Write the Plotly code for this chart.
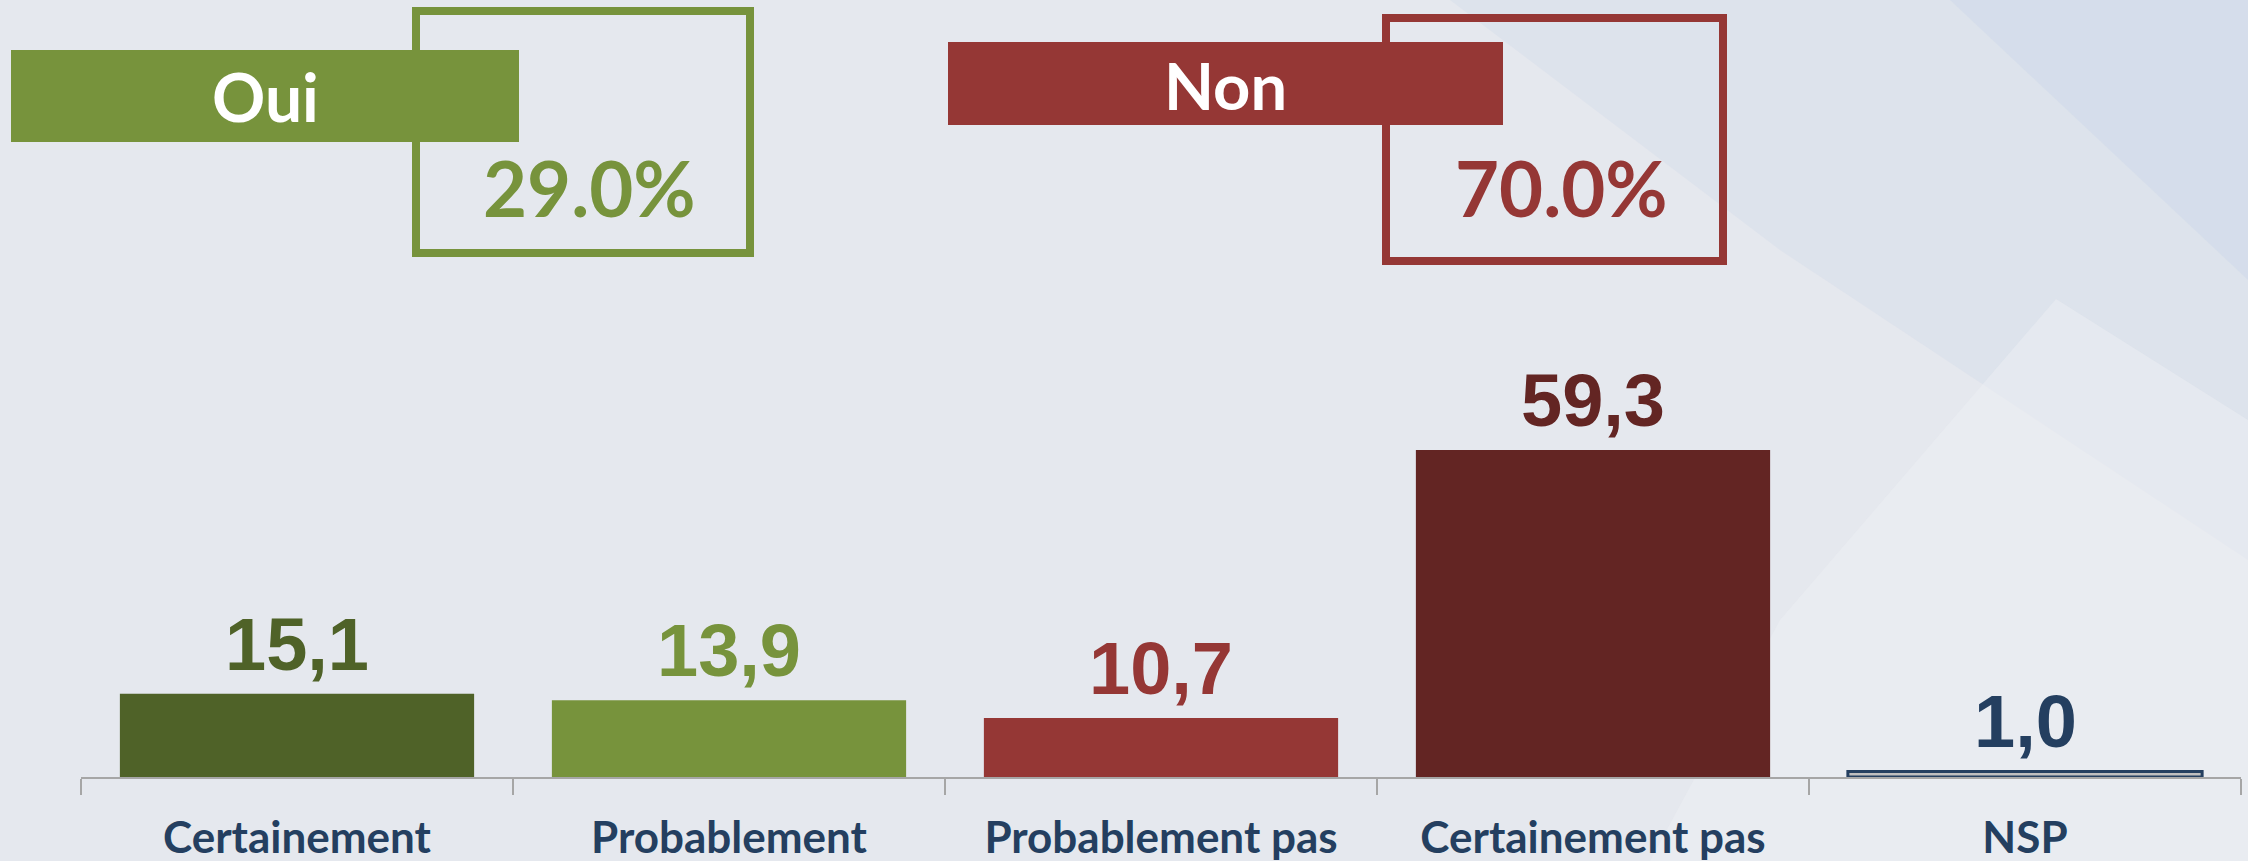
import plotly.graph_objects as go

# Survey results (%)
categories = ['Certainement', 'Probablement', 'Probablement pas', 'Certainement pas', 'NSP']
values = [15.1, 13.9, 10.7, 59.3, 1.0]
labels = ['15,1', '13,9', '10,7', '59,3', '1,0']
bar_colors = ['#4F6228', '#77933C', '#953735', '#632523', '#BFBFBF']
label_colors = ['#4F6228', '#77933C', '#953735', '#632523', '#243F60']

oui_total = values[0] + values[1]
non_total = values[2] + values[3]

W, H = 2248, 861
GREEN = '#77933C'
RED = '#953735'
NAVY = '#243F60'


def px(x):
    return x / W


def py(y):
    return 1 - y / H


fig = go.Figure()

fig.add_trace(go.Bar(
    x=categories, y=values,
    marker=dict(color=bar_colors,
                line=dict(color=bar_colors[:4] + [NAVY], width=[0, 0, 0, 0, 3])),
    hoverinfo='skip',
))

# value labels above bars
for cat, v, lab, col in zip(categories, values, labels, label_colors):
    fig.add_annotation(x=cat, y=v, text=lab, showarrow=False, yanchor='bottom', yshift=6,
                       font=dict(family='Liberation Sans', size=74, color=col, weight='bold'))

shapes = []
# faint background shapes
shapes.append(dict(type='path', xref='paper', yref='paper', layer='below',
                   path=f'M {px(1450)} {py(0)} L {px(2248)} {py(0)} L {px(2248)} {py(560)} '
                        f'L {px(1780)} {py(250)} Z',
                   fillcolor='rgba(200,212,232,0.25)', line=dict(width=0)))
shapes.append(dict(type='path', xref='paper', yref='paper', layer='below',
                   path=f'M {px(2056)} {py(299)} L {px(2248)} {py(420)} L {px(2248)} {py(861)} '
                        f'L {px(1650)} {py(861)} L {px(1780)} {py(620)} Z',
                   fillcolor='rgba(238,240,244,0.5)', line=dict(width=0)))
shapes.append(dict(type='path', xref='paper', yref='paper', layer='below',
                   path=f'M {px(1950)} {py(0)} L {px(2248)} {py(0)} L {px(2248)} {py(280)} Z',
                   fillcolor='rgba(195,210,232,0.3)', line=dict(width=0)))

# Oui / Non summary boxes
for (bx0, by0, bx1, by1), (fx0, fy0, fx1, fy1), col in [
    ((416, 11, 750, 253), (11, 50, 519, 142), GREEN),
    ((1386, 18, 1723, 261), (948, 42, 1503, 125), RED),
]:
    shapes.append(dict(type='rect', xref='paper', yref='paper',
                       x0=px(bx0), x1=px(bx1), y0=py(by1), y1=py(by0),
                       line=dict(color=col, width=8), fillcolor='rgba(0,0,0,0)'))
    shapes.append(dict(type='rect', xref='paper', yref='paper',
                       x0=px(fx0), x1=px(fx1), y0=py(fy1), y1=py(fy0),
                       line=dict(width=0), fillcolor=col))

box_texts = [
    (265, 97, 'Oui', 66, 'white'),
    (589, 187, f'{oui_total:.1f}%', 76, GREEN),
    (1225, 85, 'Non', 65, 'white'),
    (1561, 187, f'{non_total:.1f}%', 76, RED),
]
for x, y, txt, size, col in box_texts:
    fig.add_annotation(xref='paper', yref='paper', x=px(x), y=py(y), text=txt, showarrow=False,
                       xanchor='center', yanchor='middle',
                       font=dict(family='Lato', size=size, color=col, weight='bold'))

fig.update_layout(
    width=W, height=H,
    margin=dict(l=0, r=0, t=0, b=0),
    paper_bgcolor='#E5E8EE',
    plot_bgcolor='rgba(0,0,0,0)',
    bargap=0.18,
    showlegend=False,
    shapes=shapes,
    xaxis=dict(domain=[px(81), px(2241)], showgrid=False, showline=True, linecolor='#A6A6A6',
               linewidth=2, ticks='outside', ticklen=16, tickwidth=2, tickcolor='#A6A6A6',
               tickson='boundaries', ticklabelstandoff=21, automargin=False,
               tickfont=dict(family='Lato', size=44, color=NAVY, weight='bold')),
    yaxis=dict(domain=[1 - 777 / H, 1], range=[0, 777 / 5.514], visible=False, fixedrange=True),
)

fig.write_html("out.html", config={'displayModeBar': False},
               post_script="document.body.style.margin='0';")
